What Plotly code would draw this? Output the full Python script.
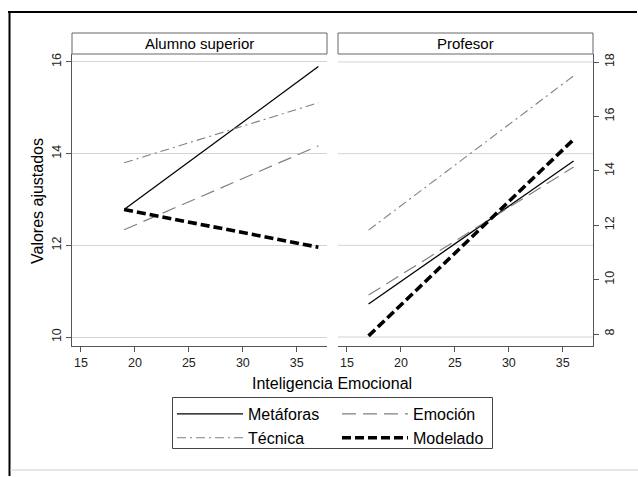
import plotly.graph_objects as go

W, H = 638, 477

# ---- data ----
panels = ["Alumno superior", "Profesor"]
series_names = ["Metáforas", "Emoción", "Técnica", "Modelado"]

x_alumno = [19, 37]
alumno_metaforas = [12.78, 15.90]
alumno_emocion = [12.34, 14.17]
alumno_tecnica = [13.80, 15.11]
alumno_modelado = [12.78, 11.96]

x_profesor = [17, 36]
profesor_metaforas = [9.10, 14.36]
profesor_emocion = [9.43, 14.14]
profesor_tecnica = [11.82, 17.49]
profesor_modelado = [7.93, 15.15]

x_ticks = [15, 20, 25, 30, 35]
y_ticks_left = [10, 12, 14, 16]
y_ticks_right = [8, 10, 12, 14, 16, 18]

x_title = "Inteligencia Emocional"
y_title = "Valores ajustados"

# ---- styles ----
styles = {
    "Metáforas": dict(color="black", width=1.3, dash="solid"),
    "Emoción": dict(color="#808080", width=1.2, dash="14px,7px"),
    "Técnica": dict(color="#808080", width=1.1, dash="9px,4px,2px,4px"),
    "Modelado": dict(color="black", width=3.6, dash="9px,4px"),
}
# legend column for each series (two-column legend like the original)
legend_of = {"Metáforas": "legend", "Técnica": "legend",
             "Emoción": "legend2", "Modelado": "legend2"}
legend_rank = {"Metáforas": 1, "Técnica": 2, "Emoción": 1, "Modelado": 2}

def px_x(p):
    return p / W

def px_y(p):
    return 1 - p / H

FONT = "Liberation Sans, Arial, sans-serif"

fig = go.Figure()

left_data = [alumno_metaforas, alumno_emocion, alumno_tecnica, alumno_modelado]
right_data = [profesor_metaforas, profesor_emocion, profesor_tecnica, profesor_modelado]

for name, ys in zip(series_names, left_data):
    fig.add_trace(go.Scatter(x=x_alumno, y=ys, mode="lines", name=name,
                             line=styles[name], xaxis="x", yaxis="y",
                             legend=legend_of[name], legendrank=legend_rank[name],
                             legendgroup=name, showlegend=True))
for name, ys in zip(series_names, right_data):
    fig.add_trace(go.Scatter(x=x_profesor, y=ys, mode="lines", name=name,
                             line=styles[name], xaxis="x2", yaxis="y2",
                             legendgroup=name, showlegend=False))

xrange = [14.17, 37.8]
axis_color = "#555555"
grid_color = "#d4d4d4"

common_x = dict(range=xrange, tickvals=x_ticks, showline=True, linecolor=axis_color,
                linewidth=1, ticks="outside", ticklen=5, tickcolor=axis_color,
                showgrid=False, zeroline=False,
                tickfont=dict(family=FONT, size=12.5, color="#222"))

ydom = [px_y(346), px_y(54)]

legend_common = dict(orientation="v", yanchor="top", xanchor="left",
                     bgcolor="rgba(0,0,0,0)", borderwidth=0, itemwidth=66,
                     font=dict(family=FONT, size=16, color="black"),
                     traceorder="normal", tracegroupgap=0)

fig.update_layout(
    width=W, height=H,
    margin=dict(l=0, r=0, t=0, b=0),
    paper_bgcolor="white", plot_bgcolor="white",
    font=dict(family=FONT, color="black"),
    xaxis=dict(domain=[px_x(72), px_x(327)], anchor="y", **common_x),
    xaxis2=dict(domain=[px_x(338), px_x(593)], anchor="y2", **common_x),
    yaxis=dict(domain=ydom, anchor="x", range=[9.804, 16.174], tickvals=y_ticks_left,
               tickangle=-90, showline=True, linecolor=axis_color, linewidth=1,
               ticks="outside", ticklen=5, tickcolor=axis_color,
               showgrid=True, gridcolor=grid_color, gridwidth=1, zeroline=False,
               tickfont=dict(family=FONT, size=12.5, color="#222")),
    yaxis2=dict(domain=ydom, anchor="x2", side="right", range=[7.559, 18.294],
                tickvals=y_ticks_right, tickangle=-90, showline=True,
                linecolor=axis_color, linewidth=1, ticks="outside", ticklen=5,
                tickcolor=axis_color, showgrid=False, zeroline=False,
                tickfont=dict(family=FONT, size=12.5, color="#222")),
    legend=dict(x=px_x(172), y=px_y(397), **legend_common),
    legend2=dict(x=px_x(337), y=px_y(397), **legend_common),
    showlegend=True,
)

shapes = []
# left-axis gridlines repeated in the right panel
for t in y_ticks_left:
    shapes.append(dict(type="line", xref="x2 domain", yref="y", x0=0, x1=1, y0=t, y1=t,
                       line=dict(color=grid_color, width=1), layer="below"))
# strip header boxes
for (a, b) in [(72, 327), (338, 593)]:
    shapes.append(dict(type="rect", xref="paper", yref="paper",
                       x0=px_x(a), x1=px_x(b), y0=px_y(54), y1=px_y(33),
                       line=dict(color="#666666", width=1), fillcolor="white"))
# legend frame
shapes.append(dict(type="rect", xref="paper", yref="paper",
                   x0=px_x(172.5), x1=px_x(492.5), y0=px_y(448.5), y1=px_y(397.5),
                   line=dict(color="#444444", width=1), fillcolor="rgba(0,0,0,0)"))
# outer frame (open to the right and bottom, as in the cropped original)
shapes.append(dict(type="line", xref="paper", yref="paper",
                   x0=px_x(8), x1=px_x(637), y0=px_y(12), y1=px_y(12),
                   line=dict(color="black", width=2), layer="above"))
shapes.append(dict(type="line", xref="paper", yref="paper",
                   x0=px_x(9.5), x1=px_x(9.5), y0=px_y(476), y1=px_y(11),
                   line=dict(color="black", width=2), layer="above"))
shapes.append(dict(type="line", xref="paper", yref="paper", x0=px_x(10), x1=1,
                   y0=px_y(470), y1=px_y(470), line=dict(color="#cccccc", width=1)))
fig.update_layout(shapes=shapes)

annotations = [
    dict(text=panels[0], x=px_x(199.5), y=px_y(43.5), xref="paper", yref="paper",
         showarrow=False, font=dict(family=FONT, size=15, color="black"),
         xanchor="center", yanchor="middle"),
    dict(text=panels[1], x=px_x(465.5), y=px_y(43.5), xref="paper", yref="paper",
         showarrow=False, font=dict(family=FONT, size=15, color="black"),
         xanchor="center", yanchor="middle"),
    dict(text=x_title, x=px_x(332), y=px_y(383), xref="paper", yref="paper",
         showarrow=False, font=dict(family=FONT, size=16, color="black"),
         xanchor="center", yanchor="middle"),
    dict(text=y_title, x=px_x(37), y=px_y(201), xref="paper", yref="paper",
         showarrow=False, textangle=-90, font=dict(family=FONT, size=16, color="black"),
         xanchor="center", yanchor="middle"),
]
fig.update_layout(annotations=annotations)

fig.write_html("out.html", config={"displayModeBar": False},
               post_script="document.body.style.margin='0';document.body.style.overflow='hidden';")
